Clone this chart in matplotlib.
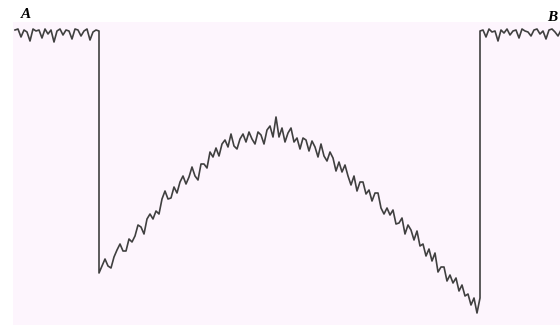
import numpy as np
import matplotlib.pyplot as plt

# signal levels (arbitrary units, 1 sample = 3 px)
left = [295, 296, 288, 295, 293, 284, 296, 294, 295, 287,
        296, 291, 295, 283, 294, 296, 290, 295, 294, 286,
        296, 295, 289, 294, 296, 285, 293, 295, 294]
ramp = [52, 59, 66, 59, 57, 68, 75, 81, 74, 74,
        86, 83, 89, 100, 98, 91, 106, 111, 106, 114,
        111, 126, 134, 126, 127, 138, 132, 143, 149, 141,
        148, 158, 149, 145, 161, 161, 157, 173, 168, 177,
        169, 181, 185, 178, 191, 179, 176, 186, 191, 183,
        193, 186, 181, 193, 190, 181, 195, 199, 188, 208,
        188, 197, 183, 192, 197, 183, 187, 176, 187, 185,
        174, 184, 178, 168, 181, 169, 164, 173, 167, 154,
        163, 153, 160, 149, 140, 149, 134, 143, 143, 131,
        135, 124, 132, 132, 117, 111, 117, 110, 115, 101,
        102, 107, 91, 100, 95, 85, 94, 79, 81, 69,
        76, 64, 72, 53, 58, 58, 44, 50, 42, 47,
        34, 40, 29, 31, 20, 27, 12, 27]
right = [294, 295, 288, 296, 293, 294, 284, 295, 292, 296,
         290, 294, 295, 287, 296, 294, 293, 289, 295, 296,
         291, 294, 286, 295, 296, 293, 289, 295]

t_left = np.arange(len(left))
t_ramp = t_left[-1] + np.arange(len(ramp))
t_right = t_ramp[-1] + np.arange(len(right))
t = np.concatenate([t_left, t_ramp, t_right])
v = np.concatenate([left, ramp, right])

fig = plt.figure(figsize=(5.6, 3.25), dpi=100)
ax = fig.add_axes([13 / 560, 0, 547 / 560, 303 / 325])
ax.set_facecolor('#fdf5fd')
ax.plot(t, v, color='#404040', linewidth=1.2)
ax.set_xlim(-2 / 3, 545 / 3)
ax.set_ylim(0, 303)
ax.set_xticks([])
ax.set_yticks([])
for s in ax.spines.values():
    s.set_visible(False)

fig.text(21 / 560, 1 - 18 / 325, 'A', family='Liberation Serif',
         weight='bold', style='italic', fontsize=11)
fig.text(547 / 560, 1 - 21 / 325, 'B', family='Liberation Serif',
         weight='bold', style='italic', fontsize=11)

fig.savefig('out.png', dpi=100)
